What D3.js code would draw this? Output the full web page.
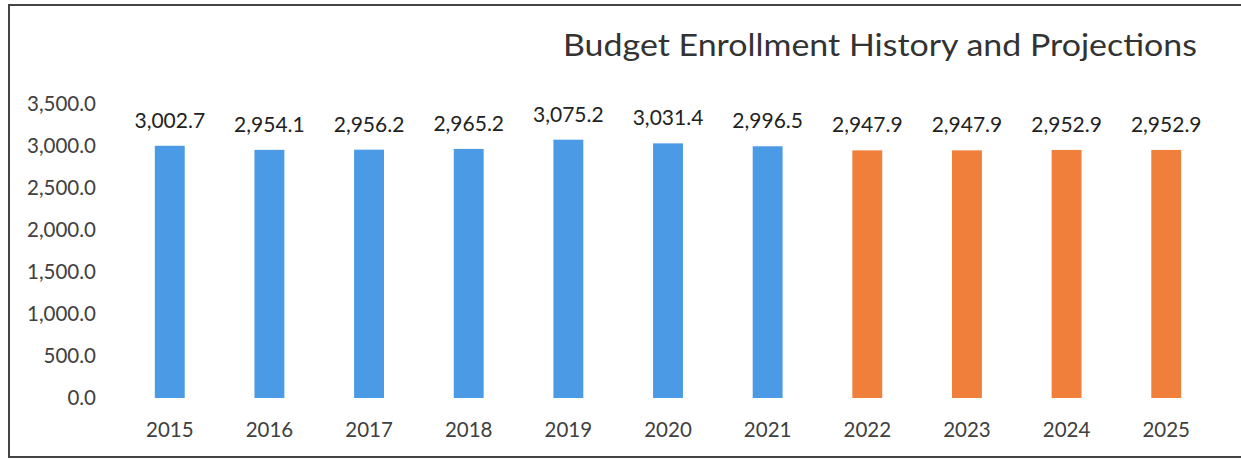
<!DOCTYPE html>
<html>
<head>
<meta charset="utf-8">
<script src="https://cdn.jsdelivr.net/npm/d3@7"></script>
<style>
  body { margin: 0; background: #fff; }
  svg { display: block; font-family: Lato, "Open Sans", sans-serif; }
</style>
</head>
<body>
<div id="wrapper"></div>
<script>
const years = ["2015", "2016", "2017", "2018", "2019", "2020", "2021", "2022", "2023", "2024", "2025"];
const enrollment = [3002.7, 2954.1, 2956.2, 2965.2, 3075.2, 3031.4, 2996.5, 2947.9, 2947.9, 2952.9, 2952.9];
const projected = [false, false, false, false, false, false, false, true, true, true, true];
const yTicks = [0, 500, 1000, 1500, 2000, 2500, 3000, 3500];
const title = "Budget Enrollment History and Projections";

const dataset = years.map((y, i) => ({ year: y, value: enrollment[i], projected: projected[i] }));

const dimensions = { width: 1241, height: 459 };

const wrapper = d3.select("#wrapper")
  .append("svg")
  .attr("width", dimensions.width)
  .attr("height", dimensions.height);

// frame around the chart (cropped on the right)
wrapper.append("path")
  .attr("d", "M1241,5 H9 V457 H1241")
  .attr("fill", "none")
  .attr("stroke", "#444")
  .attr("stroke-width", 2);

// scales
const xScale = d3.scaleBand()
  .domain(years)
  .range([105, 1231])
  .paddingInner(0.7)
  .paddingOuter(0.5);

const yScale = d3.scaleLinear()
  .domain([0, 3500])
  .range([398, 104]);

const fmt = d3.format(",.1f");

// y axis labels (no line, no ticks)
const yAxis = wrapper.append("g")
  .attr("transform", "translate(96,0)")
  .call(d3.axisLeft(yScale).tickValues(yTicks).tickFormat(fmt).tickSize(0).tickPadding(0));
yAxis.select(".domain").remove();
yAxis.selectAll("text")
  .attr("font-family", "Lato, 'Open Sans', sans-serif")
  .attr("font-size", 20.5)
  .attr("fill", "#404040");

// x axis labels
const xAxis = wrapper.append("g")
  .attr("transform", "translate(0,398)")
  .call(d3.axisBottom(xScale).tickSize(0).tickPadding(24));
xAxis.select(".domain").remove();
xAxis.selectAll("text")
  .attr("font-family", "Lato, 'Open Sans', sans-serif")
  .attr("font-size", 20.5)
  .attr("fill", "#404040");

// bars
wrapper.append("g")
  .selectAll("rect")
  .data(dataset)
  .join("rect")
  .attr("x", d => xScale(d.year))
  .attr("y", d => yScale(d.value))
  .attr("width", xScale.bandwidth())
  .attr("height", d => yScale(0) - yScale(d.value))
  .attr("fill", d => d.projected ? "#f07f3c" : "#4a9ae6");

// value labels
wrapper.append("g")
  .selectAll("text")
  .data(dataset)
  .join("text")
  .attr("x", d => xScale(d.year) + xScale.bandwidth() / 2)
  .attr("y", d => yScale(d.value) - 18)
  .attr("text-anchor", "middle")
  .attr("font-size", 21)
  .attr("fill", "#222")
  .text(d => fmt(d.value));

// title
wrapper.append("text")
  .attr("x", 1197)
  .attr("y", 56)
  .attr("text-anchor", "end")
  .attr("font-size", 31)
  .attr("textLength", 634)
  .attr("lengthAdjust", "spacingAndGlyphs")
  .attr("fill", "#333")
  .text(title);
</script>
</body>
</html>
